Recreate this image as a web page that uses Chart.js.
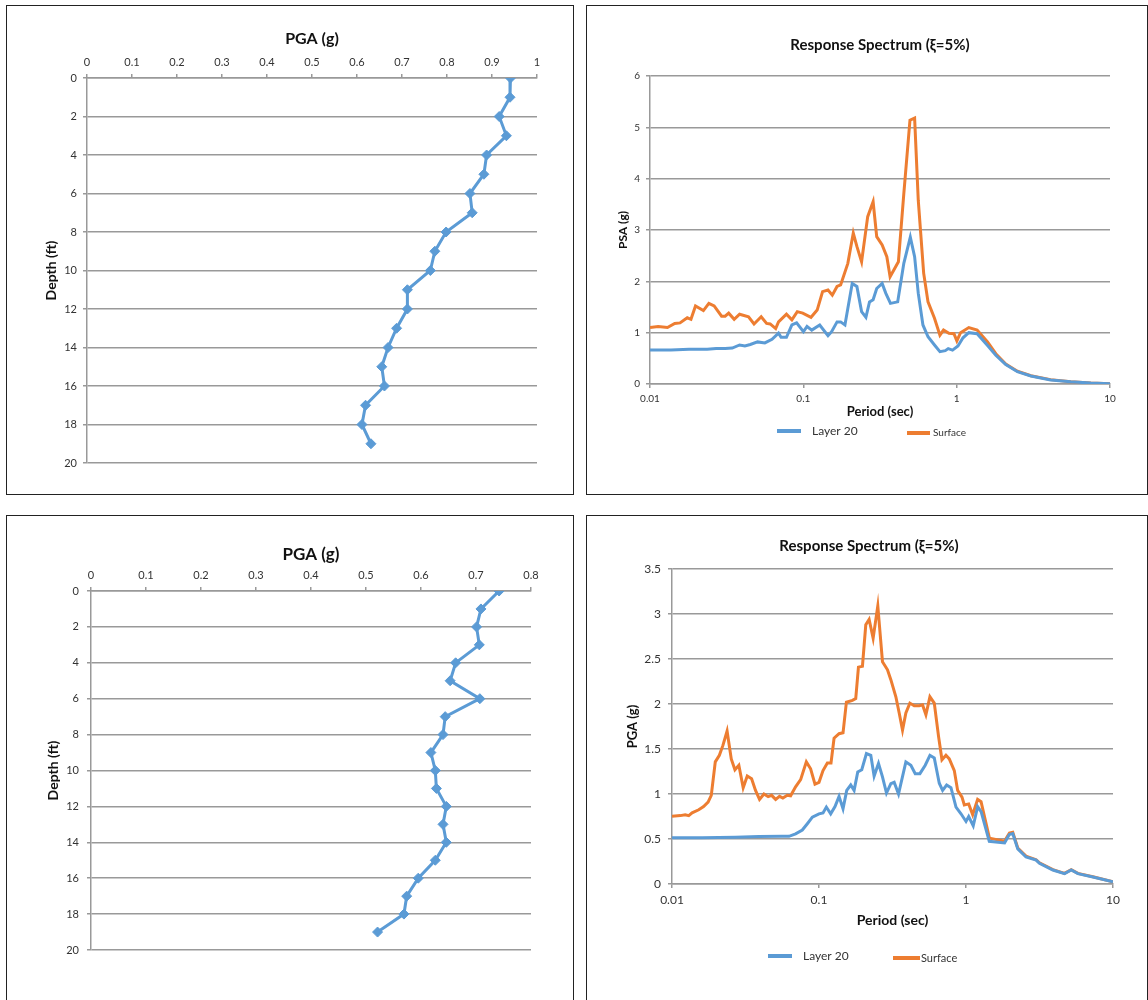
<!DOCTYPE html>
<html>
<head>
<meta charset="utf-8">
<script src="https://cdn.jsdelivr.net/npm/chart.js@4.4.1/dist/chart.umd.min.js"></script>
<style>
  body { margin: 0; background: #fff; width: 1148px; height: 1000px; overflow: hidden; position: relative; }
  .box { position: absolute; border: 1.5px solid #222; box-sizing: border-box; }
  canvas { position: absolute; }
</style>
</head>
<body>
<div class="box" style="left:6px;top:5px;width:568px;height:490px"></div>
<div class="box" style="left:586px;top:5px;width:562px;height:490px"></div>
<div class="box" style="left:6px;top:515px;width:568px;height:500px"></div>
<div class="box" style="left:586px;top:515px;width:562px;height:500px"></div>

<canvas id="pgaTop" width="564" height="486" style="left:8px;top:7px"></canvas>
<canvas id="specTop" width="558" height="486" style="left:588px;top:7px"></canvas>
<canvas id="pgaBottom" width="564" height="483" style="left:8px;top:517px"></canvas>
<canvas id="specBottom" width="558" height="483" style="left:588px;top:517px"></canvas>

<script>
// depth profile (ft) and peak ground acceleration (g)
const depthFt = [0, 1, 2, 3, 4, 5, 6, 7, 8, 9, 10, 11, 12, 13, 14, 15, 16, 17, 18, 19];
const pgaA = [0.941, 0.940, 0.916, 0.932, 0.888, 0.882, 0.851, 0.856, 0.798, 0.773,
              0.763, 0.712, 0.712, 0.688, 0.669, 0.655, 0.661, 0.619, 0.611, 0.631];
const pgaB = [0.742, 0.709, 0.701, 0.706, 0.663, 0.653, 0.707, 0.644, 0.640, 0.618,
              0.626, 0.628, 0.646, 0.640, 0.646, 0.626, 0.595, 0.574, 0.569, 0.521];

// response spectrum, top pair
const periodA_layer = [0.01, 0.0137, 0.018, 0.0236, 0.027, 0.0309, 0.0344, 0.0384, 0.0416, 0.0451,
  0.0503, 0.0561, 0.0625, 0.0689, 0.0716, 0.0776, 0.0842, 0.0904, 0.1002, 0.1057,
  0.1135, 0.1279, 0.1448, 0.1529, 0.1659, 0.1751, 0.1868, 0.2083, 0.2235, 0.2398,
  0.2559, 0.2701, 0.2852, 0.301, 0.3266, 0.3447, 0.37, 0.4124, 0.4522, 0.4985,
  0.5318, 0.5617, 0.6026, 0.6503, 0.7168, 0.7777, 0.8433, 0.881, 0.9399, 1.02,
  1.1, 1.2, 1.36, 1.59, 1.8, 2.09, 2.49, 3.05, 4.1, 5.55, 7.5, 10];
const psaA_layer = [0.66, 0.66, 0.675, 0.675, 0.69, 0.69, 0.70, 0.76, 0.74, 0.77,
  0.82, 0.80, 0.87, 0.99, 0.91, 0.91, 1.15, 1.19, 1.02, 1.12,
  1.05, 1.15, 0.94, 1.02, 1.21, 1.21, 1.15, 1.96, 1.90, 1.41,
  1.30, 1.60, 1.64, 1.86, 1.96, 1.77, 1.57, 1.60, 2.35, 2.86,
  2.48, 1.77, 1.15, 0.92, 0.76, 0.63, 0.65, 0.69, 0.66, 0.74,
  0.90, 1.00, 0.98, 0.75, 0.56, 0.38, 0.24, 0.155, 0.08, 0.043, 0.018, 0.006];
const periodA_surf = [0.01, 0.0113, 0.013, 0.0145, 0.0157, 0.0175, 0.0185, 0.0198, 0.0223, 0.0242,
  0.0262, 0.0293, 0.0309, 0.0326, 0.0354, 0.0384, 0.0439, 0.0477, 0.0531, 0.0576,
  0.0608, 0.066, 0.0689, 0.0776, 0.0842, 0.0913, 0.0991, 0.1122, 0.1231, 0.1335,
  0.1448, 0.1545, 0.1659, 0.1751, 0.1951, 0.2117, 0.2235, 0.2398, 0.2629, 0.2852,
  0.301, 0.3266, 0.3504, 0.368, 0.4169, 0.4522, 0.4959, 0.5318, 0.5617, 0.6092,
  0.6503, 0.7168, 0.7777, 0.821, 0.8905, 0.96, 1.003, 1.06, 1.2, 1.36,
  1.59, 1.8, 2.09, 2.49, 3.05, 4.1, 5.55, 7.5, 10];
const psaA_surf = [1.10, 1.12, 1.10, 1.18, 1.19, 1.29, 1.26, 1.52, 1.43, 1.57,
  1.52, 1.32, 1.32, 1.38, 1.26, 1.36, 1.31, 1.17, 1.31, 1.18,
  1.17, 1.08, 1.21, 1.36, 1.25, 1.41, 1.38, 1.30, 1.44, 1.80,
  1.83, 1.73, 1.90, 1.93, 2.35, 2.94, 2.68, 2.38, 3.26, 3.55,
  2.87, 2.71, 2.48, 2.09, 2.38, 3.71, 5.14, 5.18, 3.58, 2.16,
  1.60, 1.28, 0.95, 1.05, 0.99, 0.98, 0.84, 1.00, 1.10, 1.05,
  0.82, 0.59, 0.39, 0.25, 0.16, 0.085, 0.046, 0.02, 0.007];

// response spectrum, bottom pair
const periodB_layer = [0.01, 0.016, 0.027, 0.039, 0.0562, 0.0625, 0.0693, 0.077, 0.0833, 0.0901,
  0.1, 0.1065, 0.1122, 0.1201, 0.1285, 0.1369, 0.1457, 0.1544, 0.1644, 0.1733,
  0.1835, 0.1954, 0.2102, 0.2251, 0.2371, 0.2539, 0.2703, 0.2878, 0.3081, 0.3246,
  0.3475, 0.3899, 0.4217, 0.4514, 0.4858, 0.5281, 0.5683, 0.6084, 0.6579, 0.6932,
  0.7383, 0.7903, 0.855, 0.9245, 1.0, 1.043, 1.12, 1.2, 1.27, 1.44,
  1.83, 1.97, 2.08, 2.25, 2.56, 3.0, 3.16, 3.9, 4.68, 5.2, 5.77, 7.3, 10];
const psaB_layer = [0.513, 0.513, 0.52, 0.528, 0.53, 0.53, 0.557, 0.60, 0.67, 0.743,
  0.78, 0.79, 0.855, 0.78, 0.86, 0.974, 0.836, 1.04, 1.10, 1.04,
  1.245, 1.27, 1.45, 1.43, 1.20, 1.34, 1.19, 1.01, 1.115, 1.13,
  1.00, 1.356, 1.32, 1.226, 1.226, 1.32, 1.43, 1.40, 1.12, 1.04,
  1.10, 1.07, 0.855, 0.78, 0.695, 0.75, 0.647, 0.86, 0.80, 0.474,
  0.456, 0.55, 0.56, 0.39, 0.30, 0.265, 0.23, 0.155, 0.115, 0.155, 0.115, 0.078, 0.025];
const periodB_surf = [0.01, 0.0114, 0.0123, 0.013, 0.0137, 0.0152, 0.0164, 0.0176, 0.0185, 0.0197,
  0.021, 0.0222, 0.0237, 0.0253, 0.0268, 0.0285, 0.0305, 0.0325, 0.0348, 0.037,
  0.0394, 0.0422, 0.0451, 0.0476, 0.0507, 0.0539, 0.0568, 0.0608, 0.0641, 0.0693,
  0.075, 0.082, 0.0877, 0.0939, 0.1, 0.1065, 0.114, 0.1207, 0.1266, 0.1369,
  0.1457, 0.1536, 0.1688, 0.1778, 0.1855, 0.1975, 0.2081, 0.2193, 0.2335, 0.2512,
  0.2703, 0.2924, 0.3081, 0.3333, 0.3512, 0.37, 0.3899, 0.4151, 0.4444, 0.4808,
  0.5065, 0.5337, 0.5683, 0.6084, 0.6512, 0.6863, 0.7305, 0.7698, 0.8326, 0.8774,
  0.9392, 0.974, 1.043, 1.11, 1.2, 1.266, 1.443, 1.826, 1.974, 2.08,
  2.25, 2.56, 3.0, 3.16, 3.9, 4.68, 5.2, 5.77, 7.3, 10];
const psaB_surf = [0.754, 0.76, 0.77, 0.76, 0.79, 0.825, 0.86, 0.91, 0.985, 1.357,
  1.43, 1.54, 1.70, 1.39, 1.27, 1.32, 1.07, 1.20, 1.17, 1.04,
  0.94, 1.00, 0.97, 0.985, 0.94, 0.974, 0.955, 0.985, 0.98, 1.08,
  1.16, 1.357, 1.28, 1.11, 1.13, 1.26, 1.345, 1.345, 1.62, 1.67,
  1.68, 2.02, 2.04, 2.06, 2.41, 2.42, 2.88, 2.94, 2.73, 3.09,
  2.47, 2.38, 2.27, 2.08, 1.90, 1.71, 1.90, 2.01, 1.98, 1.98,
  1.99, 1.88, 2.08, 2.01, 1.635, 1.38, 1.43, 1.39, 1.26, 1.04,
  0.966, 0.879, 0.89, 0.77, 0.94, 0.915, 0.51, 0.474, 0.566, 0.574,
  0.40, 0.31, 0.27, 0.235, 0.16, 0.118, 0.16, 0.118, 0.08, 0.025];

const decadeTicks = [0.01, 0.1, 1, 10];

const BLUE = '#5B9BD5';
const ORANGE = '#ED7D31';
const GRID = '#999999';

Chart.defaults.font.family = "Lato, 'Open Sans', sans-serif";
Chart.defaults.color = '#333';

// Excel shows "1", "0.5", "3" - no trailing zeros
const plainLabel = v => String(Math.round(v * 1000) / 1000);

// Excel-style legend: short thick line + label, each entry placed on its own
const lineLegend = {
  id: 'lineLegend',
  afterDraw(chart, args, opts) {
    const ctx = chart.ctx;
    (opts.items || []).forEach((it, i) => {
      const ds = chart.data.datasets[i];
      ctx.save();
      ctx.strokeStyle = ds.borderColor;
      ctx.lineWidth = 4;
      ctx.beginPath();
      ctx.moveTo(it.x, it.y);
      ctx.lineTo(it.x + it.w, it.y);
      ctx.stroke();
      ctx.fillStyle = '#333';
      ctx.font = it.size + "px Lato, 'Open Sans', sans-serif";
      ctx.textBaseline = 'middle';
      ctx.fillText(ds.label, it.tx, it.ty);
      ctx.restore();
    });
  }
};

function toPoints(xs, ys) {
  return xs.map((x, i) => ({ x: x, y: ys[i] }));
}

function profileChart(id, pga, xMax, box) {
  new Chart(document.getElementById(id), {
    type: 'scatter',
    data: {
      datasets: [{
        label: 'PGA',
        data: toPoints(pga, depthFt),
        showLine: true,
        borderColor: BLUE,
        backgroundColor: BLUE,
        borderWidth: 3,
        pointStyle: 'rectRot',
        pointRadius: 5,
        pointBorderWidth: 1
      }]
    },
    options: {
      responsive: false,
      animation: false,
      layout: { padding: { left: 0, right: box.padRight, top: 0, bottom: box.padBottom } },
      plugins: { legend: { display: false }, tooltip: { enabled: false } },
      scales: {
        x: {
          type: 'linear', position: 'top', min: 0, max: xMax,
          ticks: { stepSize: 0.1, padding: 5, font: { size: 11 }, callback: plainLabel },
          grid: { drawOnChartArea: false, tickLength: 4, color: GRID, lineWidth: 1.5 },
          border: { color: GRID, width: 1.5 },
          title: { display: true, text: 'PGA (g)', color: '#111',
                   font: { size: box.titleSize, weight: 'bold' }, padding: { top: box.titlePad, bottom: 0 } },
          afterFit: s => { s.height = box.top; }
        },
        y: {
          type: 'linear', reverse: true, min: 0, max: 20,
          ticks: { stepSize: 2, padding: box.yTickPad, font: { size: 11 } },
          grid: { color: GRID, lineWidth: 1.5, tickLength: 4 },
          border: { color: GRID, width: 1.5 },
          title: { display: true, text: 'Depth (ft)', color: '#111',
                   font: { size: 14, weight: 'bold' }, padding: { top: box.yTitlePad, bottom: 0 } },
          afterFit: s => { s.width = box.left; }
        }
      }
    }
  });
}

profileChart('pgaTop', pgaA, 1,
  { padRight: 35, padBottom: 30, top: 71, left: 79, titleSize: 16, titlePad: 22, yTickPad: 6, yTitlePad: 35 });
profileChart('pgaBottom', pgaB, 0.8,
  { padRight: 41, padBottom: 50, top: 74, left: 83, titleSize: 17, titlePad: 27, yTickPad: 8, yTitlePad: 37 });

function seriesSets(pl, vl, ps, vs) {
  const base = { showLine: true, borderWidth: 3, pointRadius: 0, tension: 0 };
  return [
    Object.assign({ label: 'Layer 20', data: toPoints(pl, vl), borderColor: BLUE, backgroundColor: BLUE }, base),
    Object.assign({ label: 'Surface', data: toPoints(ps, vs), borderColor: ORANGE, backgroundColor: ORANGE }, base)
  ];
}

// top spectrum: title sits on a blank top axis so it centres over the plot
new Chart(document.getElementById('specTop'), {
  type: 'scatter',
  data: { datasets: seriesSets(periodA_layer, psaA_layer, periodA_surf, psaA_surf) },
  options: {
    responsive: false,
    animation: false,
    layout: { padding: { left: 0, right: 36, top: 0, bottom: 60 } },
    plugins: {
      legend: { display: false },
      tooltip: { enabled: false },
      lineLegend: { items: [
        { x: 189, y: 424, w: 24, tx: 224, ty: 424, size: 12 },
        { x: 319, y: 426, w: 23, tx: 345, ty: 426, size: 10 }
      ] }
    },
    scales: {
      x: {
        type: 'logarithmic', min: 0.01, max: 10,
        afterBuildTicks: s => { s.ticks = decadeTicks.map(v => ({ value: v })); },
        ticks: { padding: 5, font: { size: 10 }, callback: plainLabel },
        grid: { drawOnChartArea: false, tickLength: 4, color: GRID, lineWidth: 1.5 },
        border: { color: GRID, width: 1.5 },
        title: { display: true, text: 'Period (sec)', color: '#111',
                 font: { size: 13, weight: 'bold' }, padding: { top: 0, bottom: 13 } },
        afterFit: s => { s.height = 49; }
      },
      xTitle: {
        type: 'linear', position: 'top', min: 0, max: 1,
        ticks: { display: false },
        grid: { display: false },
        border: { display: false },
        title: { display: true, text: 'Response Spectrum (ξ=5%)', color: '#111',
                 font: { size: 15, weight: 'bold' }, padding: { top: 29, bottom: 0 } },
        afterFit: s => { s.height = 69; }
      },
      y: {
        min: 0, max: 6,
        ticks: { stepSize: 1, padding: 6, font: { size: 10 }, callback: plainLabel },
        grid: { color: GRID, lineWidth: 1.5, tickLength: 4 },
        border: { color: GRID, width: 1.5 },
        title: { display: true, text: 'PSA (g)', color: '#111',
                 font: { size: 12, weight: 'bold' }, padding: { top: 28, bottom: 0 } },
        afterFit: s => { s.width = 62; }
      }
    }
  },
  plugins: [lineLegend]
});

// bottom spectrum: chart title centred on the panel
new Chart(document.getElementById('specBottom'), {
  type: 'scatter',
  data: { datasets: seriesSets(periodB_layer, psaB_layer, periodB_surf, psaB_surf) },
  options: {
    responsive: false,
    animation: false,
    layout: { padding: { left: 37, right: 33, top: 0, bottom: 0 } },
    plugins: {
      legend: { display: false },
      tooltip: { enabled: false },
      title: { display: true, text: 'Response Spectrum (ξ=5%)', color: '#111',
               font: { size: 15, weight: 'bold' }, padding: { top: 20, bottom: 14 } },
      lineLegend: { items: [
        { x: 180, y: 439, w: 24, tx: 215, ty: 439, size: 12 },
        { x: 305, y: 441, w: 27, tx: 333, ty: 441, size: 11 }
      ] }
    },
    scales: {
      x: {
        type: 'logarithmic', min: 0.01, max: 10,
        afterBuildTicks: s => { s.ticks = decadeTicks.map(v => ({ value: v })); },
        ticks: { padding: 5, font: { size: 12 }, callback: plainLabel },
        grid: { drawOnChartArea: false, tickLength: 4, color: GRID, lineWidth: 1.5 },
        border: { color: GRID, width: 1.5 },
        title: { display: true, text: 'Period (sec)', color: '#111',
                 font: { size: 14, weight: 'bold' }, padding: { top: 0, bottom: 71 } },
        afterFit: s => { s.height = 116; }
      },
      y: {
        min: 0, max: 3.5,
        ticks: { stepSize: 0.5, padding: 7, font: { size: 12 }, callback: plainLabel },
        grid: { color: GRID, lineWidth: 1.5, tickLength: 4 },
        border: { color: GRID, width: 1.5 },
        title: { display: true, text: 'PGA (g)', color: '#111',
                 font: { size: 13, weight: 'bold' }, padding: { top: 0, bottom: 0 } },
        afterFit: s => { s.width = 47; }
      }
    }
  },
  plugins: [lineLegend]
});
</script>
</body>
</html>
